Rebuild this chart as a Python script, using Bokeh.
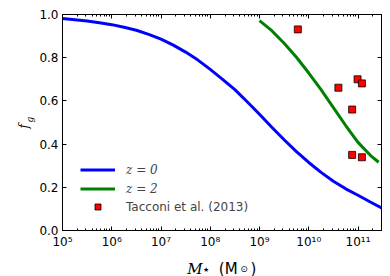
import math
from bokeh.plotting import figure
from bokeh.models import (FixedTicker, CustomJSTickFormatter, PrintfTickFormatter,
                          LogAxis, LinearAxis, Legend, LegendItem, Label, Range1d)
from bokeh.embed import file_html
from bokeh.resources import INLINE

# ---- data ----
blue_logm = [5.0, 5.25, 5.5, 5.75, 6.0, 6.25, 6.5, 6.75, 7.0, 7.25, 7.5, 7.75, 8.0, 8.25,
             8.5, 8.75, 9.0, 9.25, 9.5, 9.75, 10.0, 10.25, 10.5, 10.75, 11.0, 11.25, 11.48]
blue_fg = [0.981, 0.976, 0.970, 0.962, 0.953, 0.941, 0.927, 0.908, 0.886, 0.858, 0.826,
           0.789, 0.746, 0.700, 0.652, 0.596, 0.538, 0.478, 0.420, 0.365, 0.315, 0.269,
           0.228, 0.193, 0.163, 0.132, 0.104]

green_logm = [9.0, 9.25, 9.5, 9.75, 10.0, 10.25, 10.5, 10.75, 11.0, 11.25, 11.42]
green_fg = [0.972, 0.925, 0.867, 0.802, 0.729, 0.652, 0.569, 0.486, 0.408, 0.348, 0.316]

tacconi_mass = [6.0e9, 4.0e10, 9.8e10, 1.2e11, 7.6e10, 7.6e10, 1.2e11]
tacconi_fg = [0.931, 0.661, 0.700, 0.681, 0.560, 0.350, 0.339]

x_major = [1e5, 1e6, 1e7, 1e8, 1e9, 1e10, 1e11]
y_major = [0.0, 0.2, 0.4, 0.6, 0.8, 1.0]
x_lim = (1e5, 3e11)
y_lim = (0.0, 1.0)

x_minor = [m * 10 ** k for k in range(5, 12) for m in range(2, 10) if m * 10 ** k <= x_lim[1]]

blue_m = [10 ** v for v in blue_logm]
green_m = [10 ** v for v in green_logm]

p = figure(width=383, height=276, x_axis_type="log", output_backend="svg",
           toolbar_location=None, x_range=Range1d(*x_lim), y_range=Range1d(*y_lim),
           min_border_left=62, min_border_right=2, min_border_top=14, min_border_bottom=46)
p.frame_width = 319
p.frame_height = 216
p.xgrid.visible = False
p.ygrid.visible = False
p.outline_line_color = "black"
p.outline_line_width = 1
p.background_fill_color = "white"
p.border_fill_color = "white"

sup = CustomJSTickFormatter(code="""
const s = {'0':'\u2070','1':'\u00b9','2':'\u00b2','3':'\u00b3','4':'\u2074','5':'\u2075','6':'\u2076','7':'\u2077','8':'\u2078','9':'\u2079','-':'\u207b'};
const e = Math.round(Math.log10(tick));
return '10' + String(e).split('').map(c => s[c]).join('');
""")

def style_axis(ax, labels=True):
    ax.axis_line_color = "black"
    ax.axis_line_width = 1
    ax.major_tick_in = 4
    ax.major_tick_out = 0
    ax.minor_tick_in = 2
    ax.minor_tick_out = 0
    ax.major_tick_line_color = "black"
    ax.minor_tick_line_color = "black"
    ax.major_label_text_font = "DejaVu Sans"
    ax.major_label_text_font_size = "12px" if labels else "0px"
    ax.major_label_text_color = "black"

xa = p.xaxis[0]
xa.ticker = FixedTicker(ticks=x_major, minor_ticks=x_minor)
xa.formatter = sup
style_axis(xa)
xa.major_label_standoff = 4

ya = p.yaxis[0]
ya.ticker = FixedTicker(ticks=y_major, minor_ticks=[])
ya.formatter = PrintfTickFormatter(format="%.1f")
style_axis(ya)
ya.major_label_standoff = 4

top = LogAxis(ticker=FixedTicker(ticks=x_major, minor_ticks=x_minor),
              formatter=CustomJSTickFormatter(code="return '';"))
style_axis(top, labels=False)
top.major_label_standoff = 0
p.add_layout(top, "above")

right = LinearAxis(ticker=FixedTicker(ticks=y_major, minor_ticks=[]),
                   formatter=CustomJSTickFormatter(code="return '';"))
style_axis(right, labels=False)
right.major_label_standoff = 0
p.add_layout(right, "right")

r0 = p.line(blue_m, blue_fg, line_color="#0000ff", line_width=3)
r2 = p.line(green_m, green_fg, line_color="#008000", line_width=3)
rt = p.scatter(tacconi_mass, tacconi_fg, marker="square", size=7,
               fill_color="#ff0000", line_color="black", line_width=0.8)

leg1 = Legend(items=[LegendItem(label="z = 0", renderers=[r0]),
                     LegendItem(label="z = 2", renderers=[r2])],
              location=(18, 34), padding=0, margin=0, spacing=4,
              glyph_width=35, glyph_height=15, label_height=15, label_standoff=11,
              label_text_font="DejaVu Serif", label_text_font_style="italic",
              label_text_font_size="12px", border_line_color=None,
              background_fill_alpha=0)
leg2 = Legend(items=[LegendItem(label="Tacconi et al. (2013)", renderers=[rt])],
              location=(18, 16), padding=0, margin=0, spacing=4,
              glyph_width=35, glyph_height=15, label_height=15, label_standoff=11,
              label_text_font="DejaVu Sans", label_text_font_size="12px",
              border_line_color=None, background_fill_alpha=0)
p.add_layout(leg1)
p.add_layout(leg2)

# axis-title pieces: placed in data units (outside the frame), hosted in side panels
def lab(side, logx, y, text, font, size, style="normal", angle=0.0, align="left",
        baseline="alphabetic"):
    p.add_layout(Label(x=10 ** logx, y=y, text=text, angle=angle, text_font=font,
                       text_font_style=style, text_font_size=size, text_baseline=baseline,
                       text_align=align, text_color="black"), side)

# y title: f_g
lab("above", 4.228, 0.472, "f", "DejaVu Serif", "12px", "italic", math.pi / 2)
lab("above", 4.330, 0.500, "g", "DejaVu Serif", "9px", "italic", math.pi / 2)
# x title: M_star (M_sun)
lab("left", 7.532, -0.177, "M", "DejaVu Serif", "15px", "italic")
lab("left", 7.914, -0.183, "\u2605", "DejaVu Sans", "7px", align="center", baseline="middle")
lab("below", 8.174, -0.177, "(M", "DejaVu Sans", "15px")
lab("left", 8.685, -0.176, "\u2299", "DejaVu Sans", "9px", align="center", baseline="middle")
lab("left", 8.817, -0.177, ")", "DejaVu Sans", "15px")

open("out.html", "w").write(file_html(p, INLINE))
